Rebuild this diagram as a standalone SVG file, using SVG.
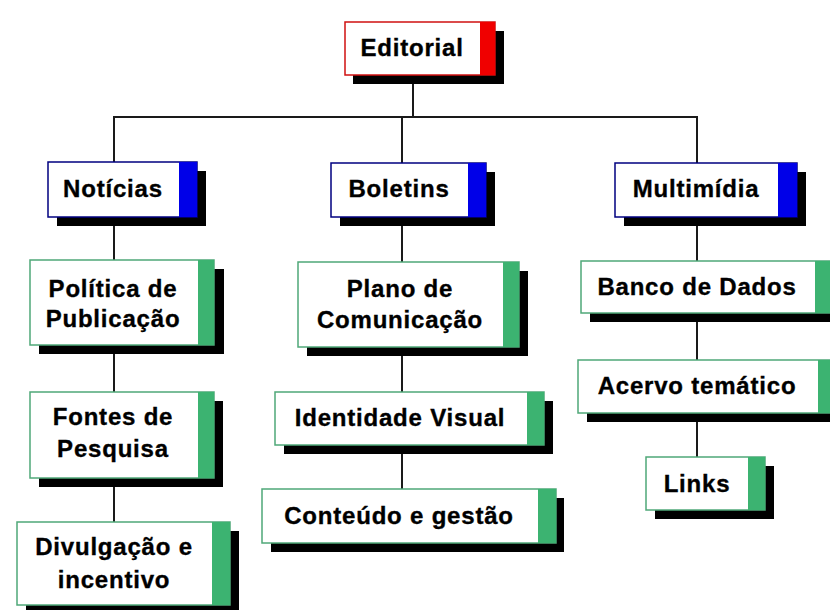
<svg xmlns="http://www.w3.org/2000/svg" width="830" height="610" viewBox="0 0 830 610">
<style>
.sh{fill:#000}
.bx{fill:#fff;stroke-width:1.5}
.red .bx{stroke:#d01010}
.red .st{fill:#f00000}
.blue .bx{stroke:#000080}
.blue .st{fill:#0000e8}
.green .bx{stroke:#4fa878}
.green .st{fill:#3cb371}
text{font-family:"Liberation Sans",Arial,sans-serif;font-weight:bold;font-size:24px;letter-spacing:0.8px;fill:#000;stroke:#000;stroke-width:0.35;text-anchor:middle}
.conn line{stroke:#1a1a1a;stroke-width:2}
</style>
<rect width="830" height="610" fill="#fff"/>
<g class="conn" id="connectors">
<line x1="413" y1="75" x2="413" y2="117"/>
<line x1="113" y1="117" x2="698" y2="117"/>
<line x1="114" y1="117" x2="114" y2="162"/>
<line x1="402" y1="117" x2="402" y2="163"/>
<line x1="697" y1="117" x2="697" y2="163"/>
<line x1="114" y1="217" x2="114" y2="260"/>
<line x1="114" y1="345" x2="114" y2="392"/>
<line x1="114" y1="478" x2="114" y2="522"/>
<line x1="402" y1="217" x2="402" y2="262"/>
<line x1="402" y1="347" x2="402" y2="392"/>
<line x1="402" y1="445" x2="402" y2="489"/>
<line x1="697" y1="217" x2="697" y2="261"/>
<line x1="697" y1="313" x2="697" y2="360"/>
<line x1="697" y1="413" x2="697" y2="457"/>
</g>
<g id="editorial" class="red">
<rect class="sh" x="353" y="31" width="151" height="53"/>
<rect class="bx" x="345" y="22" width="150" height="53"/>
<rect class="st" x="480" y="22" width="15" height="53"/>
<text x="412" y="56">Editorial</text>
</g>
<g id="noticias" class="blue">
<rect class="sh" x="57" y="171" width="149" height="55"/>
<rect class="bx" x="48" y="162" width="149" height="55"/>
<rect class="st" x="179" y="162" width="18" height="55"/>
<text x="113" y="197">Notícias</text>
</g>
<g id="boletins" class="blue">
<rect class="sh" x="340" y="172" width="155" height="54"/>
<rect class="bx" x="331" y="163" width="155" height="54"/>
<rect class="st" x="468" y="163" width="18" height="54"/>
<text x="399" y="197">Boletins</text>
</g>
<g id="multimidia" class="blue">
<rect class="sh" x="624" y="172" width="182" height="54"/>
<rect class="bx" x="615" y="163" width="182" height="54"/>
<rect class="st" x="778" y="163" width="19" height="54"/>
<text x="696" y="197">Multimídia</text>
</g>
<g id="politica" class="green">
<rect class="sh" x="39" y="269" width="185" height="85"/>
<rect class="bx" x="30" y="260" width="184" height="85"/>
<rect class="st" x="198" y="260" width="16" height="85"/>
<text x="113" y="297">Política de</text>
<text x="113" y="327">Publicação</text>
</g>
<g id="plano" class="green">
<rect class="sh" x="307" y="271" width="221" height="85"/>
<rect class="bx" x="298" y="262" width="221" height="85"/>
<rect class="st" x="503" y="262" width="16" height="85"/>
<text x="400" y="297">Plano de</text>
<text x="400" y="328">Comunicação</text>
</g>
<g id="banco" class="green">
<rect class="sh" x="590" y="270" width="250" height="52"/>
<rect class="bx" x="581" y="261" width="250" height="52"/>
<rect class="st" x="815" y="261" width="18" height="52"/>
<text x="697" y="295">Banco de Dados</text>
</g>
<g id="fontes" class="green">
<rect class="sh" x="39" y="401" width="184" height="86"/>
<rect class="bx" x="30" y="392" width="184" height="86"/>
<rect class="st" x="198" y="392" width="16" height="86"/>
<text x="113" y="425">Fontes de</text>
<text x="113" y="457">Pesquisa</text>
</g>
<g id="identidade" class="green">
<rect class="sh" x="284" y="401" width="269" height="53"/>
<rect class="bx" x="275" y="392" width="269" height="53"/>
<rect class="st" x="527" y="392" width="17" height="53"/>
<text x="400" y="426">Identidade Visual</text>
</g>
<g id="acervo" class="green">
<rect class="sh" x="587" y="369" width="258" height="53"/>
<rect class="bx" x="578" y="360" width="258" height="53"/>
<rect class="st" x="818" y="360" width="18" height="53"/>
<text x="697" y="394">Acervo temático</text>
</g>
<g id="divulgacao" class="green">
<rect class="sh" x="26" y="531" width="213" height="83"/>
<rect class="bx" x="17" y="522" width="213" height="83"/>
<rect class="st" x="212" y="522" width="18" height="83"/>
<text x="114" y="555">Divulgação e</text>
<text x="114" y="588">incentivo</text>
</g>
<g id="conteudo" class="green">
<rect class="sh" x="271" y="498" width="293" height="54"/>
<rect class="bx" x="262" y="489" width="294" height="54"/>
<rect class="st" x="538" y="489" width="18" height="54"/>
<text x="399" y="524">Conteúdo e gestão</text>
</g>
<g id="links" class="green">
<rect class="sh" x="655" y="466" width="119" height="53"/>
<rect class="bx" x="646" y="457" width="119" height="53"/>
<rect class="st" x="748" y="457" width="17" height="53"/>
<text x="697" y="492">Links</text>
</g>
</svg>
